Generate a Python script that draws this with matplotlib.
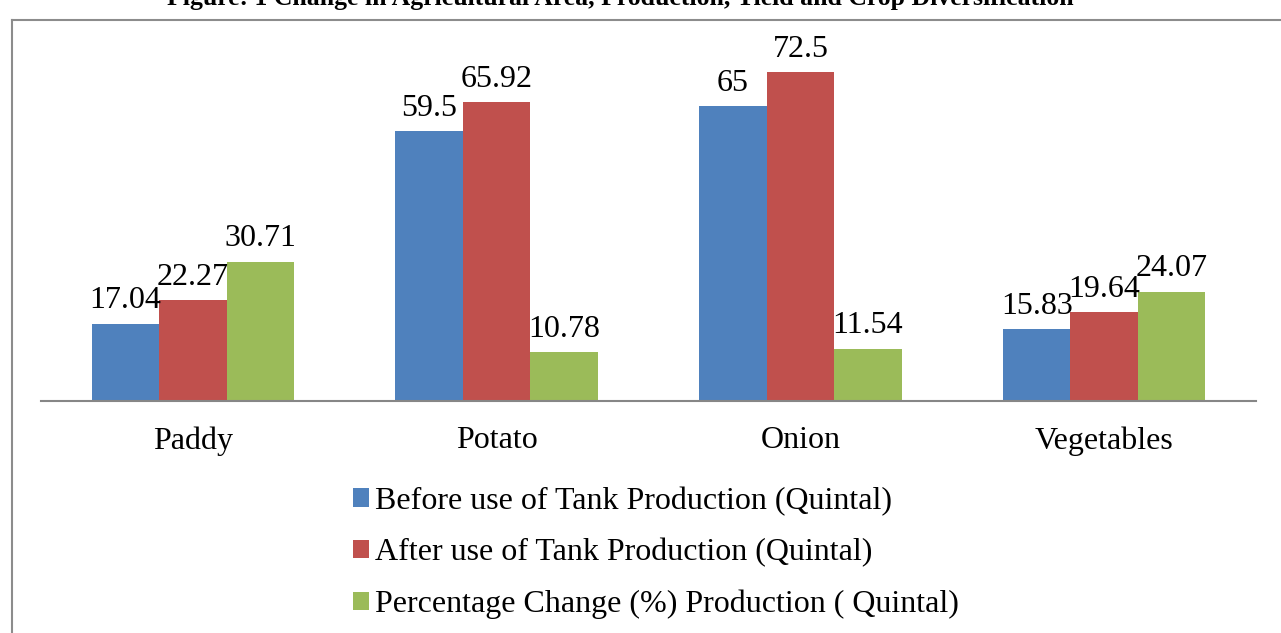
import matplotlib
matplotlib.use("Agg")
import matplotlib.pyplot as plt
from matplotlib.lines import Line2D
import numpy as np

categories = ["Paddy", "Potato", "Onion", "Vegetables"]
series_names = ["Before use of Tank Production (Quintal)",
                "After use of Tank Production (Quintal)",
                "Percentage Change (%) Production ( Quintal)"]
before = [17.04, 59.5, 65, 15.83]
after = [22.27, 65.92, 72.5, 19.64]
pct_change = [30.71, 10.78, 11.54, 24.07]
before_lbl = ["17.04", "59.5", "65", "15.83"]
after_lbl = ["22.27", "65.92", "72.5", "19.64"]
pct_lbl = ["30.71", "10.78", "11.54", "24.07"]
colors = ["#4F81BD", "#C0504D", "#9BBB59"]
title = "Figure: 1 Change in Agricultural Area, Production, Yield and Crop Diversification"

plt.rcParams['font.family'] = ['Liberation Serif', 'DejaVu Serif']

W, H = 1281, 633
fig = plt.figure(figsize=(W/100, H/100), dpi=100)

# outer frame (border of embedded chart)
fig.add_artist(Line2D([12/W, 12/W], [0, 1 - 20/H], transform=fig.transFigure,
                      color="#8C8C8C", lw=1.5))
fig.add_artist(Line2D([12/W, 1.0], [1 - 20/H, 1 - 20/H], transform=fig.transFigure,
                      color="#8C8C8C", lw=1.5))

# clipped title (cut off at the top edge as in the reference)
fig.text(620/W, 1 + 1/H, title, ha="center", va="center", fontsize=18.5,
         fontweight="bold", color="black")

ax_left, ax_right = 41, 1256
ax_base, ax_top = 401, 30
ax = fig.add_axes([ax_left/W, 1 - ax_base/H, (ax_right-ax_left)/W, (ax_base-ax_top)/H])
px_per_unit = 329/72.5
ax.set_ylim(0, (ax_base-ax_top)/px_per_unit)
ax.set_xlim(-0.5, len(categories)-0.5)

x = np.arange(len(categories))
bw = 0.222
data = [before, after, pct_change]
lbls = [before_lbl, after_lbl, pct_lbl]
for i, (vals, lab) in enumerate(zip(data, lbls)):
    xs = x + (i-1)*bw
    ax.bar(xs, vals, width=bw, color=colors[i], label=series_names[i], zorder=2)
    for xi, v, t in zip(xs, vals, lab):
        ax.annotate(t, (xi, v), xytext=(0, 6), textcoords="offset points",
                    ha="center", va="bottom", fontsize=23)

for s in ["top", "right", "left"]:
    ax.spines[s].set_visible(False)
ax.spines["bottom"].set_color("#868686")
ax.spines["bottom"].set_linewidth(1.5)
ax.set_yticks([])
ax.set_xticks(x)
ax.set_xticklabels(categories, fontsize=23)
ax.tick_params(axis="x", length=0, pad=18)

leg = fig.legend(loc="center", bbox_to_anchor=(656/W, 1 - 553/H), ncol=1, frameon=False,
                 fontsize=23, handlelength=0.5, handleheight=0.5, handletextpad=0.2,
                 labelspacing=0.7)

fig.savefig("out.png", dpi=100)
